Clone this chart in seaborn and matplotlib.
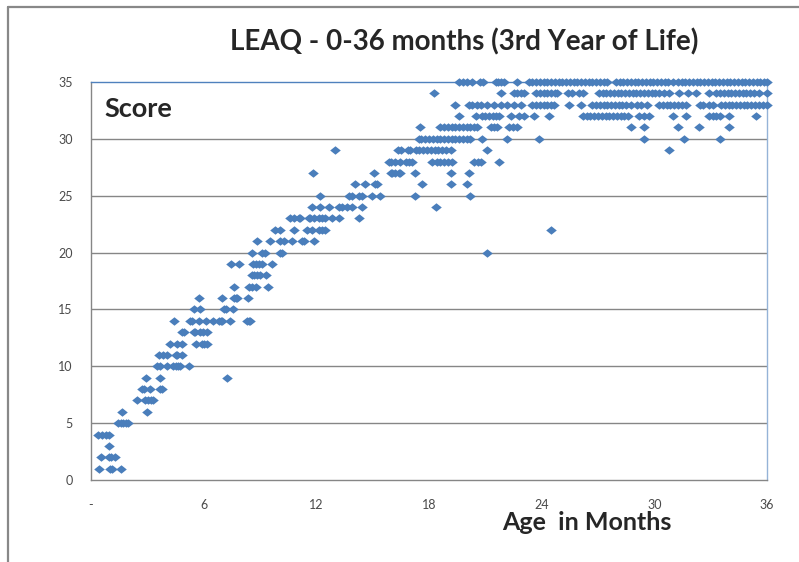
import matplotlib
matplotlib.use("Agg")
import matplotlib.pyplot as plt
import seaborn as sns
import pandas as pd
from matplotlib.lines import Line2D

# score levels 1..35 and the ages (months) of the children at each level
score_levels = list(range(1, 36))

ages_by_score = [
    [0.43, 1.0, 1.1, 1.62],                                          # 1
    [0.53, 0.94, 1.08, 1.3],                                         # 2
    [0.96],                                                          # 3
    [0.36, 0.57, 0.8, 0.96],                                         # 4
    [1.46, 1.6, 1.72, 1.85, 1.99],                                   # 5
    [1.67, 2.97],                                                    # 6
    [2.44, 2.9, 3.05, 3.2, 3.32],                                    # 7
    [2.7, 2.83, 3.15, 3.68, 3.8],                                    # 8
    [2.92, 3.68, 7.24],                                              # 9
    [3.5, 3.68, 4.04, 4.39, 4.5, 4.62, 4.75, 5.24],                  # 10
    [3.63, 3.86, 4.04, 4.5, 4.6, 4.84],                              # 11
    [4.21, 4.57, 4.84, 5.6, 5.9, 6.0, 6.17],                         # 12
    [4.84, 4.96, 5.46, 5.55, 5.81, 5.99, 6.17],                      # 13
    [4.43, 5.28, 5.4, 5.76, 6.12, 6.52, 6.79, 6.9, 7.0, 7.41,
     8.3, 8.4, 8.48],                                                # 14
    [5.51, 5.81, 7.06, 7.2, 7.54],                                   # 15
    [5.76, 6.97, 7.59, 7.7, 7.77, 8.34],                             # 16
    [7.59, 8.39, 8.57, 8.8, 9.4],                                    # 17
    [8.57, 8.7, 8.84, 9.01, 9.33],                                   # 18
    [7.45, 7.86, 8.62, 8.8, 8.96, 9.1, 9.64],                        # 19
    [8.57, 9.1, 9.28, 10.08, 10.17, 21.07],                          # 20
    [8.84, 9.51, 10.08, 10.26, 10.7, 11.24, 11.36, 11.86],           # 21
    [9.81, 10.08, 10.79, 11.5, 11.77, 12.12, 12.3, 12.48, 24.48],    # 22
    [10.61, 10.79, 11.06, 11.15, 11.59, 11.68, 11.86, 12.12, 12.3,
     12.48, 12.84, 13.19, 14.26],                                    # 23
    [11.77, 12.21, 12.66, 13.19, 13.37, 13.64, 13.9, 14.44, 18.35],  # 24
    [12.21, 13.72, 13.9, 14.26, 14.44, 14.97, 15.41, 17.28, 20.21],  # 25
    [14.08, 14.61, 15.15, 15.24, 17.64, 19.15, 20.0],                # 26
    [11.8, 15.09, 15.95, 16.04, 16.21, 16.39, 16.48, 17.28, 19.15,
     20.12],                                                         # 27
    [15.86, 15.95, 16.21, 16.48, 16.75, 16.92, 17.1, 18.17, 18.4,
     18.6, 18.8, 19.0, 19.24, 20.39, 20.6, 20.75, 21.72],            # 28
    [13.01, 16.34, 16.5, 16.89, 17.0, 17.33, 17.46, 17.7, 17.9, 18.1,
     18.3, 18.5, 18.7, 18.9, 19.15, 21.1, 30.8],                     # 29
    [17.46, 17.6, 17.8, 18.0, 18.2, 18.4, 18.6, 18.8, 19.0, 19.2,
     19.4, 19.6, 19.8, 20.0, 20.21, 20.84, 22.17, 23.86, 29.45,
     31.6, 33.5],                                                    # 30
    [17.51, 18.61, 18.8, 19.0, 19.2, 19.4, 19.6, 19.8, 20.0, 20.2,
     20.4, 20.57, 21.28, 21.45, 21.64, 22.26, 22.45, 22.7, 28.75,
     29.45, 31.25, 32.4, 34.0],                                      # 31
    [19.59, 20.48, 20.84, 21.0, 21.2, 21.4, 21.55, 21.72, 22.35,
     22.79, 23.06, 23.59, 24.39, 26.2, 26.4, 26.6, 26.8, 27.0, 27.2,
     27.4, 27.6, 27.8, 28.0, 28.2, 28.4, 28.6, 29.2, 29.45, 29.7,
     31.0, 31.7, 32.9, 33.1, 33.3, 33.5, 34.0, 35.4],                # 32
    [19.41, 20.12, 20.3, 20.57, 20.75, 21.1, 21.45, 21.81, 22.17,
     22.52, 22.88, 23.5, 23.7, 23.9, 24.1, 24.3, 24.5, 24.66, 25.45,
     26.1, 26.7, 26.9, 27.1, 27.3, 27.5, 27.7, 27.9, 28.1, 28.3,
     28.5, 28.75, 29.1, 29.3, 29.6, 30.25, 30.45, 30.65, 30.85,
     31.05, 31.25, 31.45, 31.7, 32.43, 32.6, 32.9, 33.1, 33.55,
     33.75, 33.95, 34.15, 34.35, 34.55, 34.75, 34.95, 35.15, 35.35,
     35.55, 35.8, 36.0],                                             # 33
    [18.26, 21.85, 22.52, 22.7, 22.88, 23.06, 23.7, 23.9, 24.1, 24.3,
     24.5, 24.7, 24.84, 25.4, 25.6, 26.0, 26.2, 27.05, 27.25, 27.45,
     27.65, 27.85, 28.05, 28.25, 28.45, 28.65, 28.85, 29.05, 29.25,
     29.45, 29.65, 29.85, 30.05, 30.25, 30.5, 30.8, 31.3, 31.8, 32.2,
     32.9, 33.3, 33.5, 33.7, 33.9, 34.1, 34.3, 34.5, 34.7, 34.9,
     35.1, 35.3, 35.55, 36.0],                                       # 34
    [19.6, 19.8, 20.0, 20.3, 20.71, 20.85, 21.55, 21.7, 21.81, 21.99,
     22.67, 23.3, 23.5, 23.7, 23.9, 24.1, 24.3, 24.5, 24.7, 24.9,
     25.1, 25.3, 25.5, 25.7, 25.9, 26.1, 26.3, 26.5, 26.7, 26.9,
     27.1, 27.3, 27.5, 27.95, 28.15, 28.35, 28.55, 28.75, 28.95,
     29.15, 29.35, 29.55, 29.75, 29.95, 30.15, 30.35, 30.55, 30.75,
     31.0, 31.25, 31.45, 31.65, 31.85, 32.05, 32.25, 32.45, 32.65,
     32.85, 33.05, 33.25, 33.45, 33.65, 33.85, 34.05, 34.25, 34.45,
     34.65, 34.85, 35.05, 35.25, 35.45, 35.65, 35.85, 36.0],         # 35
]

x_ticks = [0, 6, 12, 18, 24, 30, 36]
x_tick_labels = ["-", "6", "12", "18", "24", "30", "36"]
y_ticks = [0, 5, 10, 15, 20, 25, 30, 35]

rows = []
for s, ages in zip(score_levels, ages_by_score):
    for a in ages:
        rows.append({"age": a, "score": s})
df = pd.DataFrame(rows)

sns.set_style("white")
plt.rcParams["font.family"] = ["Lato", "DejaVu Sans"]

fig = plt.figure(figsize=(7.99, 5.62), dpi=100)
ax = fig.add_axes([91 / 799, 82 / 562, 676 / 799, 398 / 562])

for y in y_ticks[1:-1]:
    ax.axhline(y, color="#868686", lw=1, zorder=0)

# slightly wide diamond, like the Excel marker
diamond = [(-1.0, 0.0), (0.0, 0.8), (1.0, 0.0), (0.0, -0.8), (-1.0, 0.0)]
sns.scatterplot(data=df, x="age", y="score", marker=diamond, s=58,
                color="#4A7EBB", linewidth=0, ax=ax, zorder=3, clip_on=False)

ax.set_xlim(0, 36)
ax.set_ylim(0, 35)
ax.set_xticks(x_ticks)
ax.set_xticklabels(x_tick_labels)
ax.set_yticks(y_ticks)
ax.set_xlabel("")
ax.set_ylabel("")

ax.spines["left"].set_color("#868686")
ax.spines["bottom"].set_color("#868686")
ax.spines["top"].set_color("#4F81BD")
ax.spines["right"].set_color("#95B3D7")
for sp in ax.spines.values():
    sp.set_linewidth(1)

ax.tick_params(axis="both", direction="out", length=5, width=1,
               color="#868686", labelsize=9, labelcolor="#4a4a4a")
ax.tick_params(axis="y", pad=8)
ax.tick_params(axis="x", pad=9)

fig.text(464 / 799, 1 - 42 / 562, "LEAQ - 0-36 months (3rd Year of Life)",
         fontsize=20, fontweight="bold", ha="center", va="center")
fig.text(104 / 799, 1 - 109 / 562, "Score", fontsize=19.5,
         fontweight="bold", ha="left", va="center")
fig.text(587 / 799, 1 - 522 / 562, "Age  in Months", fontsize=18,
         fontweight="bold", ha="center", va="center")

# outer chart border (cut off at right and bottom)
fig.add_artist(Line2D([8 / 799, 8 / 799], [0, 1 - 7 / 562],
                      transform=fig.transFigure, color="#888888", lw=1.6))
fig.add_artist(Line2D([8 / 799, 1], [1 - 7 / 562, 1 - 7 / 562],
                      transform=fig.transFigure, color="#888888", lw=1.6))

fig.savefig("out.png", dpi=100)
